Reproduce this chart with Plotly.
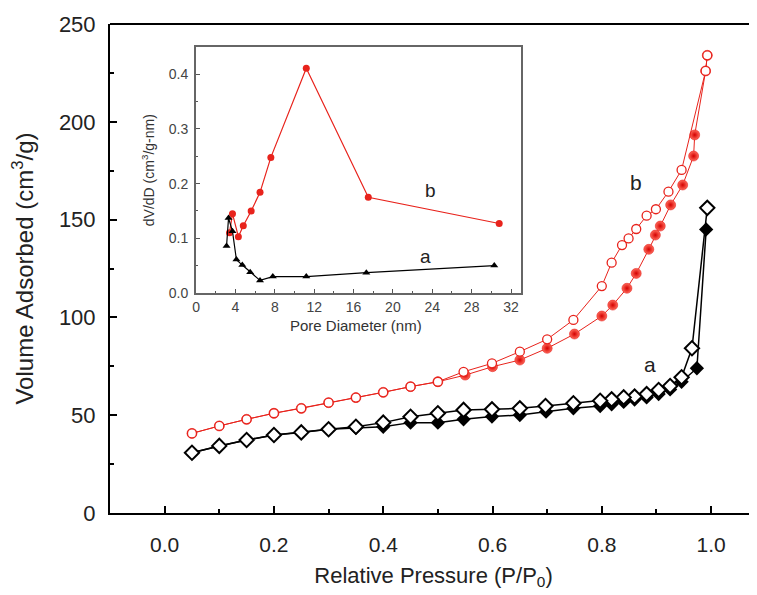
import plotly.graph_objects as go

# ---- main isotherm data ----
p_red_ads = [0.05, 0.10, 0.15, 0.20, 0.25, 0.30, 0.35, 0.40, 0.45, 0.50, 0.55, 0.60, 0.65, 0.70, 0.75, 0.80, 0.82, 0.846, 0.863, 0.886, 0.898, 0.907, 0.926, 0.948, 0.968, 0.97, 0.99, 0.993]
v_red_ads = [40.7, 44.5, 47.9, 51.0, 53.5, 56.4, 59.0, 61.7, 64.6, 67.1, 70.5, 74.8, 78.2, 84.2, 91.5, 100.7, 106.3, 114.9, 122.5, 134.8, 142.1, 146.7, 157.5, 167.7, 182.5, 193.3, 226, 234]
p_red_des = [0.993, 0.99, 0.946, 0.922, 0.899, 0.882, 0.863, 0.849, 0.837, 0.818, 0.80, 0.748, 0.70, 0.65, 0.599, 0.547, 0.50, 0.45, 0.40, 0.35, 0.30, 0.25, 0.20, 0.15, 0.10, 0.05]
v_red_des = [234, 226, 175.4, 164.3, 155.3, 152.0, 145.2, 140.4, 137.0, 128.0, 116.0, 98.7, 88.8, 82.5, 76.5, 72.2, 67.1, 64.6, 61.7, 59.0, 56.4, 53.5, 51.0, 47.9, 44.5, 40.7]

p_blk_ads = [0.05, 0.10, 0.15, 0.20, 0.25, 0.30, 0.35, 0.40, 0.45, 0.50, 0.547, 0.599, 0.65, 0.698, 0.748, 0.797, 0.818, 0.84, 0.86, 0.882, 0.904, 0.925, 0.946, 0.974, 0.991]
v_blk_ads = [30.8, 34.3, 37.3, 39.9, 41.2, 42.8, 43.5, 44.1, 46.2, 46.2, 47.9, 49.3, 50.1, 51.8, 53.5, 54.7, 55.6, 56.8, 58.0, 59.1, 60.8, 63.2, 67.1, 74.0, 145.0]
p_blk_des = [0.993, 0.965, 0.946, 0.925, 0.904, 0.882, 0.86, 0.84, 0.818, 0.797, 0.748, 0.697, 0.65, 0.599, 0.547, 0.50, 0.45, 0.40, 0.35, 0.30, 0.25, 0.20, 0.15, 0.10, 0.05]
v_blk_des = [156.0, 84.2, 69.4, 64.9, 62.9, 60.8, 59.5, 59.1, 58.1, 57.4, 56.1, 54.7, 53.5, 53.0, 52.7, 51.0, 49.2, 46.2, 44.1, 42.8, 41.2, 39.9, 37.3, 34.3, 30.8]

# ---- inset pore size distribution ----
d_red = [3.4, 3.7, 4.3, 4.8, 5.6, 6.5, 7.6, 11.2, 17.5, 30.8]
dv_red = [0.110, 0.145, 0.103, 0.123, 0.150, 0.184, 0.248, 0.411, 0.175, 0.127]
d_blk = [3.1, 3.3, 3.7, 4.1, 4.7, 5.5, 6.5, 7.8, 11.2, 17.3, 30.3]
dv_blk = [0.086, 0.137, 0.113, 0.061, 0.051, 0.038, 0.023, 0.030, 0.030, 0.037, 0.050]

main_xticks = [0, 0.2, 0.4, 0.6, 0.8, 1.0]
main_xlabels = ["0.0", "0.2", "0.4", "0.6", "0.8", "1.0"]
main_yticks = [0, 50, 100, 150, 200, 250]
inset_xticks = [0, 4, 8, 12, 16, 20, 24, 28, 32]
inset_yticks = [0, 0.1, 0.2, 0.3, 0.4]
inset_ylabels = ["0.0", "0.1", "0.2", "0.3", "0.4"]

RED = "#e8231c"
FONT = "Liberation Sans, Arial, sans-serif"
TXT = "#222"

fig = go.Figure()

# main traces: filled first, open on top
fig.add_trace(go.Scatter(x=p_red_ads, y=v_red_ads, mode="lines+markers",
    line=dict(color=RED, width=1),
    marker=dict(symbol="circle", size=10, color="#ff6a5a",
                gradient=dict(type="radial", color="#d40000"),
                line=dict(color="#e01010", width=0.5)),
    showlegend=False))
fig.add_trace(go.Scatter(x=p_red_des, y=v_red_des, mode="lines+markers",
    line=dict(color=RED, width=1),
    marker=dict(symbol="circle", size=9, color="white", line=dict(color=RED, width=1.3)),
    showlegend=False))
fig.add_trace(go.Scatter(x=p_blk_ads, y=v_blk_ads, mode="lines+markers",
    line=dict(color="black", width=1.5),
    marker=dict(symbol="diamond", size=11, color="black"),
    showlegend=False))
fig.add_trace(go.Scatter(x=p_blk_des, y=v_blk_des, mode="lines+markers",
    line=dict(color="black", width=1.5),
    marker=dict(symbol="diamond", size=11, color="white", line=dict(color="black", width=2)),
    showlegend=False))

# inset traces
fig.add_trace(go.Scatter(x=d_red, y=dv_red, mode="lines+markers", xaxis="x2", yaxis="y2",
    line=dict(color=RED, width=1.2),
    marker=dict(symbol="circle", size=7, color=RED), showlegend=False))
fig.add_trace(go.Scatter(x=d_blk, y=dv_blk, mode="lines+markers", xaxis="x2", yaxis="y2",
    line=dict(color="black", width=1.2),
    marker=dict(symbol="triangle-up", size=7, color="black"), showlegend=False))

fig.update_layout(
    width=749, height=587,
    margin=dict(l=102, r=0, t=16, b=82),
    paper_bgcolor="white", plot_bgcolor="white",
    font=dict(family=FONT, color=TXT),
    xaxis=dict(range=[-0.1, 1.084], tickvals=main_xticks, ticktext=main_xlabels,
               ticks="inside", ticklen=7, tickwidth=1.5, tickcolor="black",
               minor=dict(ticks="inside", dtick=0.1, tick0=0, ticklen=4, tickcolor="black"),
               showline=True, linecolor="black", linewidth=2, showgrid=False, zeroline=False,
               ticklabelstandoff=12,
               tickfont=dict(size=21, family=FONT, color=TXT),
               title=dict(text="Relative Pressure (P/P<sub>0</sub>)", font=dict(size=22, family=FONT, color=TXT), standoff=12)),
    yaxis=dict(range=[0, 250], tickvals=main_yticks,
               ticks="inside", ticklen=7, tickwidth=1.5, tickcolor="black",
               minor=dict(ticks="inside", dtick=25, ticklen=4, tickcolor="black"),
               showline=True, linecolor="black", linewidth=2, showgrid=False, zeroline=False,
               ticklabelstandoff=8,
               tickfont=dict(size=22, family=FONT, color=TXT),
               title=dict(text="Volume Adsorbed (cm<sup>3</sup>/g)", font=dict(size=24, family=FONT, color=TXT), standoff=18)),
    xaxis2=dict(domain=[0.133, 0.635], anchor="y2", range=[0, 33],
                tickvals=inset_xticks,
                ticks="inside", ticklen=4, tickcolor="#555",
                minor=dict(ticks="inside", dtick=2, ticklen=2, tickcolor="#555"),
                showline=True, mirror=True, linecolor="#666", linewidth=2, showgrid=False, zeroline=False,
                tickfont=dict(size=14, family=FONT, color="#444")),
    yaxis2=dict(domain=[0.45, 0.953], anchor="x2", range=[0, 0.45],
                tickvals=inset_yticks, ticktext=inset_ylabels,
                ticks="inside", ticklen=4, tickcolor="#555",
                minor=dict(ticks="inside", dtick=0.05, ticklen=2, tickcolor="#555"),
                showline=True, mirror=True, linecolor="#666", linewidth=2, showgrid=False, zeroline=False,
                ticklabelstandoff=3,
                tickfont=dict(size=14, family=FONT, color="#444")),
    shapes=[dict(type="line", xref="paper", yref="paper", x0=0, x1=1, y0=1, y1=1,
                 line=dict(color="black", width=2))],
    annotations=[
        dict(x=0.863, y=169, xref="x", yref="y", text="b", showarrow=False, font=dict(size=21, family=FONT, color=TXT)),
        dict(x=0.888, y=76, xref="x", yref="y", text="a", showarrow=False, font=dict(size=21, family=FONT, color=TXT)),
        dict(x=23.8, y=0.188, xref="x2", yref="y2", text="b", showarrow=False, font=dict(size=19, family=FONT, color=TXT)),
        dict(x=23.3, y=0.066, xref="x2", yref="y2", text="a", showarrow=False, font=dict(size=19, family=FONT, color=TXT)),
        dict(x=0.380, y=0.384, xref="paper", yref="paper", text="Pore Diameter (nm)", showarrow=False,
             xanchor="center", yanchor="middle", font=dict(size=15, family=FONT, color="#333")),
        dict(x=0.0587, y=0.701, xref="paper", yref="paper", text="dV/dD (cm<sup>3</sup>/g-nm)", showarrow=False,
             xanchor="center", yanchor="middle", textangle=-90, font=dict(size=14, family=FONT, color="#333")),
    ],
)

fig.write_html("out.html")
